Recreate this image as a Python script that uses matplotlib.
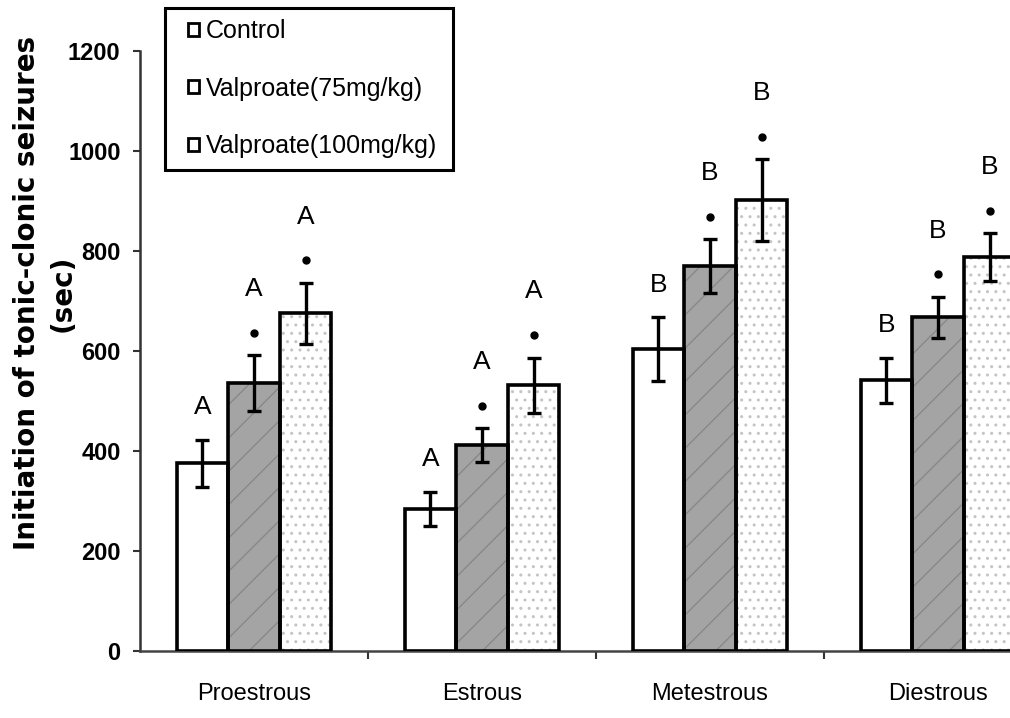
import matplotlib
matplotlib.use("Agg")
import matplotlib.pyplot as plt
from matplotlib.patches import Patch, Rectangle
import numpy as np

categories = ["Proestrous", "Estrous", "Metestrous", "Diestrous"]
series_names = ["Control", "Valproate(75mg/kg)", "Valproate(100mg/kg)"]
control = [376, 284, 604, 542]
control_err = [47, 34, 64, 45]
valp75 = [536, 412, 770, 668]
valp75_err = [56, 34, 54, 41]
valp100 = [676, 532, 902, 788]
valp100_err = [61, 55, 82, 48]
group_letters = ["A", "A", "B", "B"]
show_dot = [False, True, True]
yticks = [0, 200, 400, 600, 800, 1000, 1200]
ylabel_lines = ["Initiation of tonic-clonic seizures", "(sec)"]

SANS = ["Liberation Sans", "DejaVu Sans"]
W, H = 1010, 718

fig = plt.figure(figsize=(W / 100, H / 100), dpi=100)
ax = fig.add_axes([140 / W, 67 / H, 912 / W, 600 / H])

x = np.arange(len(categories))
w = 0.226
values = [control, valp75, valp100]
errs = [control_err, valp75_err, valp100_err]
faces = ["white", "#a4a4a4", "white"]
hatches = [None, "/", ".."]
hcolors = ["white", "#888888", "#c4c4c4"]
offsets = [-w, 0, w]

for vals, er, fc, h, hc, off, dot in zip(values, errs, faces, hatches, hcolors, offsets, show_dot):
    xs = x + off
    ax.bar(xs, vals, w, color=fc, hatch=h, edgecolor=hc, linewidth=0, zorder=2)
    ax.bar(xs, vals, w, fill=False, edgecolor="black", linewidth=2.6, zorder=3)
    ax.errorbar(xs, vals, yerr=er, fmt="none", ecolor="black", elinewidth=2.4,
                capsize=5, capthick=2.4, zorder=4)
    tops = np.array(vals) + np.array(er)
    for xi, t, L in zip(xs, tops, group_letters):
        if dot:
            ax.plot([xi], [t + 45], "o", color="black", markersize=5, zorder=5, clip_on=False)
            ly = t + 45 + 92
        else:
            ly = t + 70
        ax.text(xi, ly, L, ha="center", va="center_baseline", fontsize=19,
                family=SANS, clip_on=False)

ax.set_xlim(-0.5, len(categories) - 0.5)
ax.set_ylim(0, 1200)
ax.set_yticks(yticks)
ax.set_yticklabels([str(v) for v in yticks], fontsize=17, fontweight="bold", family=SANS)
ax.set_xticks(x)
ax.set_xticklabels(categories, fontsize=17, family=SANS)
ax.set_xticks(x[:-1] + 0.5, minor=True)
ax.tick_params(axis="x", which="major", length=0, pad=23)
ax.tick_params(axis="x", which="minor", length=6, width=1.5, direction="out", color="#333333")
ax.tick_params(axis="y", length=5, width=1.5, direction="out", pad=9, color="#333333")
for s in ["top", "right"]:
    ax.spines[s].set_visible(False)
ax.spines["left"].set_linewidth(1.8)
ax.spines["left"].set_color("#333333")
ax.spines["bottom"].set_linewidth(1.8)
ax.spines["bottom"].set_color("#444444")

for lx, txt in zip([27, 63], ylabel_lines):
    fig.text(lx / W, 1 - 293 / H, txt, rotation=90, ha="center", va="center",
             fontsize=20, fontweight="bold")

handles = [Patch(facecolor="white", edgecolor="black", linewidth=2.0) for _ in series_names]
leg = fig.legend(handles, series_names, loc="upper left",
                 bbox_to_anchor=(183 / W, 1 - 14 / H),
                 prop={"family": SANS, "size": 18},
                 frameon=False, handlelength=0.42, handleheight=0.42,
                 handletextpad=0.3, labelspacing=1.35, borderpad=0.2,
                 borderaxespad=0)
fig.patches.append(Rectangle((165 / W, 1 - 170 / H), 288 / W, 162 / H,
                             transform=fig.transFigure, fill=False,
                             edgecolor="black", linewidth=2.2, zorder=1))

fig.savefig("out.png", dpi=100)
